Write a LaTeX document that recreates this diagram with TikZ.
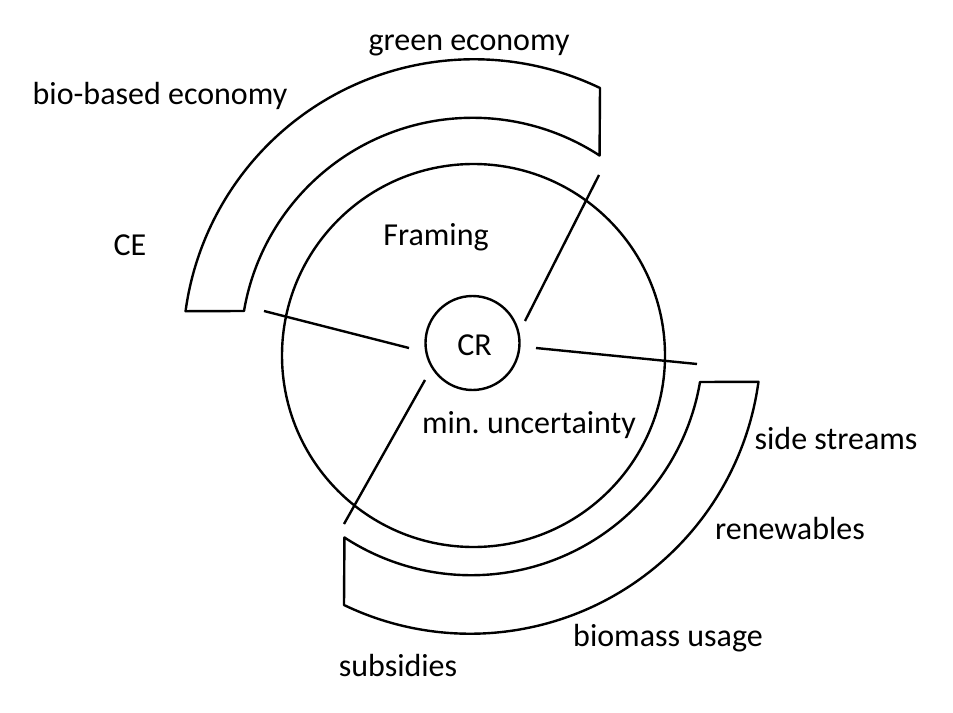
\documentclass[tikz,border=0pt]{standalone}
\usepackage{fontspec}
\setmainfont{Carlito}
\frenchspacing
\begin{document}
\begin{tikzpicture}[x=0.75pt,y=0.75pt,
  stroke/.style={draw=black,line width=1.8pt},
  lbl/.style={anchor=base,inner sep=0pt,font=\fontsize{24}{29}\selectfont}]
\useasboundingbox (0,0) rectangle (953,-713);
% big circle and core
\node[stroke,circle,minimum size=287.25pt,inner sep=0pt] (ring) at (473.5,-355.5) {};
\node[stroke,circle,minimum size=70.5pt,inner sep=0pt] (core) at (472.5,-343) {};
\node[lbl] (crlbl) at (474.5,-355) {CR};
% bands
\newcommand{\bandpath}{(600,-88) arc[start angle=64.32,end angle=172.29,radius=291] -- (244,-311) arc[start angle=170.38,end angle=56.86,radius=232] -- cycle}
\draw[stroke,line join=round] \bandpath;
\begin{scope}[rotate around={180:(472,-346.5)}]
\draw[stroke,line join=round] \bandpath;
\end{scope}
% spokes
\coordinate (l1) at (264,-311); \coordinate (l2) at (409,-348);
\coordinate (u1) at (599,-175); \coordinate (u2) at (525,-321);
\coordinate (r1) at (536,-348); \coordinate (r2) at (697,-364);
\coordinate (d1) at (425,-380); \coordinate (d2) at (344,-524);
\draw[stroke] (l1) -- (l2);
\draw[stroke] (u1) -- (u2);
\draw[stroke] (r1) -- (r2);
\draw[stroke] (d1) -- (d2);
% labels
\node[lbl] (green) at (469,-51) {green economy};
\node[lbl] (bio) at (160,-105) {bio-based economy};
\node[lbl] (ce) at (130,-255) {CE};
\node[lbl] (framing) at (436,-245) {Framing};
\node[lbl] (minu) at (529,-433) {min. uncertainty};
\node[lbl] (side) at (836,-449) {side streams};
\node[lbl] (renew) at (790,-539) {renewables};
\node[lbl] (biomass) at (668,-646) {biomass usage};
\node[lbl] (subs) at (398,-676) {subsidies};
\end{tikzpicture}
\end{document}
